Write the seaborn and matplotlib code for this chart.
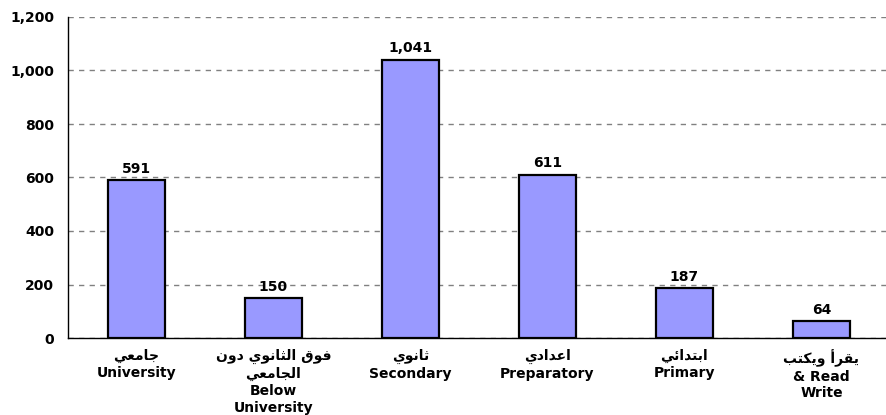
import numpy as np
import matplotlib
matplotlib.use("Agg")
import matplotlib.pyplot as plt
import seaborn as sns
import pandas as pd

# data
arabic_names = ["جامعي", "فوق الثانوي دون\nالجامعي", "ثانوي", "اعدادي", "ابتدائي", "يقرأ ويكتب"]
english_names = ["University", "Below\nUniversity", "Secondary", "Preparatory", "Primary", "& Read\nWrite"]
counts = [591, 150, 1041, 611, 187, 64]
y_ticks = [0, 200, 400, 600, 800, 1000, 1200]

# minimal arabic shaping (matplotlib has no shaping / bidi)
FORMS = {
    "ا": ("\uFE8D", "\uFE8E", None, None),
    "أ": ("\uFE83", "\uFE84", None, None),
    "ب": ("\uFE8F", "\uFE90", "\uFE91", "\uFE92"),
    "ت": ("\uFE95", "\uFE96", "\uFE97", "\uFE98"),
    "ث": ("\uFE99", "\uFE9A", "\uFE9B", "\uFE9C"),
    "ج": ("\uFE9D", "\uFE9E", "\uFE9F", "\uFEA0"),
    "د": ("\uFEA9", "\uFEAA", None, None),
    "ر": ("\uFEAD", "\uFEAE", None, None),
    "ع": ("\uFEC9", "\uFECA", "\uFECB", "\uFECC"),
    "ف": ("\uFED1", "\uFED2", "\uFED3", "\uFED4"),
    "ق": ("\uFED5", "\uFED6", "\uFED7", "\uFED8"),
    "ك": ("\uFED9", "\uFEDA", "\uFEDB", "\uFEDC"),
    "ل": ("\uFEDD", "\uFEDE", "\uFEDF", "\uFEE0"),
    "م": ("\uFEE1", "\uFEE2", "\uFEE3", "\uFEE4"),
    "ن": ("\uFEE5", "\uFEE6", "\uFEE7", "\uFEE8"),
    "و": ("\uFEED", "\uFEEE", None, None),
    "ي": ("\uFEF1", "\uFEF2", "\uFEF3", "\uFEF4"),
    "ئ": ("\uFE89", "\uFE8A", "\uFE8B", "\uFE8C"),
}


def shape_line(s):
    out = []
    for i, ch in enumerate(s):
        if ch not in FORMS:
            out.append(ch)
            continue
        prev = s[i - 1] if i > 0 else ""
        nxt = s[i + 1] if i + 1 < len(s) else ""
        join_prev = prev in FORMS and FORMS[prev][2] is not None
        join_next = nxt in FORMS and FORMS[ch][2] is not None
        iso, fin, ini, med = FORMS[ch]
        if join_prev and join_next:
            out.append(med)
        elif join_prev:
            out.append(fin)
        elif join_next:
            out.append(ini)
        else:
            out.append(iso)
    return "".join(out)[::-1]


def shape(s):
    return "\n".join(shape_line(l) for l in s.split("\n"))


labels = [shape(a) + "\n" + e for a, e in zip(arabic_names, english_names)]

df = pd.DataFrame({"level": labels, "count": counts})

sns.set_style("white")
plt.rcParams["font.family"] = ["DejaVu Sans"]
plt.rcParams["text.color"] = "black"
plt.rcParams["xtick.color"] = "black"
plt.rcParams["ytick.color"] = "black"

fig = plt.figure(figsize=(8.86, 4.15), dpi=100)
ax = fig.add_axes([68 / 886, 77 / 415, 822 / 886, 321 / 415])

sns.barplot(data=df, x="level", y="count", color="#9999ff", saturation=1,
            width=0.42, edgecolor="black", linewidth=1.6, ax=ax, zorder=3)

ax.set_xlim(-0.5, 5.5)
ax.set_ylim(0, 1200)
ax.set_yticks(y_ticks)
ax.set_yticklabels([f"{v:,}" for v in y_ticks], fontweight="bold", fontsize=10)
ax.yaxis.grid(True, linestyle=(0, (3.8, 3.8)), color="#808080", linewidth=1, zorder=0)
ax.xaxis.grid(False)

ax.set_xticks(range(len(labels)))
ax.set_xticklabels(labels, fontweight="bold", fontsize=10, linespacing=1.25)
ax.set_xticks(np.arange(0.5, 5.5, 1), minor=True)
ax.tick_params(axis="x", which="major", length=0, pad=8)
ax.tick_params(axis="x", which="minor", length=5, direction="out", color="black")
ax.tick_params(axis="y", length=8, direction="out", color="black", pad=2)

for side in ["top", "right"]:
    ax.spines[side].set_visible(False)
ax.spines["left"].set_color("black")
ax.spines["bottom"].set_color("black")
ax.spines["left"].set_linewidth(1)
ax.spines["bottom"].set_linewidth(1)

ax.set_xlabel("")
ax.set_ylabel("")

ax.bar_label(ax.containers[0], labels=[f"{v:,}" for v in counts],
             padding=3, fontweight="bold", fontsize=10, color="black")

fig.savefig("out.png", dpi=100)
